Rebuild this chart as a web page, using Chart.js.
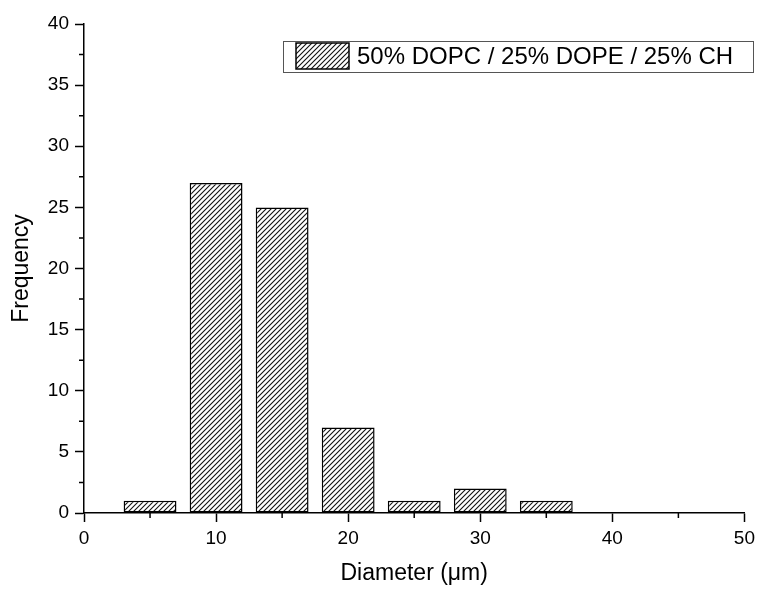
<!DOCTYPE html>
<html>
<head>
<meta charset="utf-8">
<script src="https://cdn.jsdelivr.net/npm/chart.js@4.4.1/dist/chart.umd.min.js"></script>
<style>
  html, body { margin: 0; padding: 0; background: #fff; }
  #wrap { width: 760px; height: 591px; }
</style>
</head>
<body>
<div id="wrap"><canvas id="grafico_histograma"></canvas></div>
<script>
// dados do histograma
const diametros = [5, 10, 15, 20, 25, 30, 35]
const frequencias = [1, 27, 25, 7, 1, 2, 1]
const serieLabel = '50% DOPC / 25% DOPE / 25% CH'
const xTitulo = 'Diameter (\u03bcm)'
const yTitulo = 'Frequency'

const fonte = '"Liberation Sans", Arial, sans-serif'

// padrão hachurado ///
const criarHachura = () => {
    const c = document.createElement('canvas')
    c.width = 5
    c.height = 5
    const g = c.getContext('2d')
    g.fillStyle = '#fff'
    g.fillRect(0, 0, 5, 5)
    g.strokeStyle = '#111'
    g.lineWidth = 1.1
    g.beginPath()
    g.moveTo(-1, 6); g.lineTo(6, -1)
    g.moveTo(-1, 1); g.lineTo(1, -1)
    g.moveTo(4, 6); g.lineTo(6, 4)
    g.stroke()
    return g.createPattern(c, 'repeat')
}
const hachura = criarHachura()

// ticks menores (minor) mais curtos
const ticksMenores = {
    id: 'ticksMenores',
    afterDraw(chart) {
        const ctx = chart.ctx
        const x = chart.scales.x
        const y = chart.scales.y
        ctx.save()
        ctx.strokeStyle = '#000'
        ctx.lineWidth = 1.5
        ctx.beginPath()
        for (let v = 5; v < 50; v += 10) {
            const px = x.getPixelForValue(v)
            ctx.moveTo(px, y.bottom)
            ctx.lineTo(px, y.bottom + 5)
        }
        for (let v = 2.5; v < 40; v += 5) {
            const py = y.getPixelForValue(v)
            ctx.moveTo(x.left, py)
            ctx.lineTo(x.left - 5, py)
        }
        ctx.stroke()
        ctx.restore()
    }
}

// legenda desenhada dentro da área do gráfico
const legendaCaixa = {
    id: 'legendaCaixa',
    afterDraw(chart) {
        const ctx = chart.ctx
        const label = chart.data.datasets[0].label
        ctx.save()
        ctx.strokeStyle = '#555'
        ctx.lineWidth = 1
        ctx.fillStyle = '#fff'
        ctx.fillRect(283.5, 41.5, 470, 31)
        ctx.strokeRect(283.5, 41.5, 470, 31)
        ctx.fillStyle = hachura
        ctx.fillRect(296, 43, 53, 26)
        ctx.strokeStyle = '#000'
        ctx.lineWidth = 1.5
        ctx.strokeRect(296, 43, 53, 26)
        ctx.fillStyle = '#000'
        ctx.font = '24px ' + fonte
        ctx.textBaseline = 'middle'
        ctx.fillText(label, 357, 57)
        ctx.restore()
    }
}

const ctx = document.querySelector('#grafico_histograma')

const chart = new Chart(ctx, {
    type: 'bar',
    data: {
        datasets: [{
            label: serieLabel,
            data: diametros.map((d, i) => ({ x: d, y: frequencias[i] })),
            backgroundColor: hachura,
            borderColor: '#000',
            borderWidth: 1.5,
            borderSkipped: false,
            barPercentage: 0.8,
            categoryPercentage: 1
        }]
    },
    options: {
        responsive: true,
        maintainAspectRatio: false,
        animation: false,
        layout: { padding: { top: 24, right: 14, left: 0, bottom: 0 } },
        plugins: {
            legend: { display: false },
            tooltip: { enabled: false }
        },
        scales: {
            x: {
                type: 'linear',
                min: 0,
                max: 50,
                offset: false,
                afterFit: (s) => { s.height = 78 },
                ticks: {
                    stepSize: 10,
                    color: '#000',
                    font: { family: fonte, size: 19 },
                    padding: 5
                },
                grid: {
                    offset: false,
                    drawOnChartArea: false,
                    drawTicks: true,
                    tickLength: 9,
                    tickWidth: 1.5,
                    tickColor: '#000'
                },
                border: { display: true, color: '#000', width: 1.5 },
                title: {
                    display: true,
                    text: xTitulo,
                    color: '#000',
                    font: { family: fonte, size: 23 },
                    padding: { top: 11 }
                }
            },
            y: {
                min: 0,
                max: 40,
                afterFit: (s) => { s.width = 84 },
                ticks: {
                    stepSize: 5,
                    color: '#000',
                    font: { family: fonte, size: 19 },
                    padding: 6
                },
                grid: {
                    offset: false,
                    drawOnChartArea: false,
                    drawTicks: true,
                    tickLength: 9,
                    tickWidth: 1.5,
                    tickColor: '#000'
                },
                border: { display: true, color: '#000', width: 1.5 },
                title: {
                    display: true,
                    text: yTitulo,
                    color: '#000',
                    font: { family: fonte, size: 23 },
                    padding: { top: 8, bottom: 4 }
                }
            }
        }
    },
    plugins: [ticksMenores, legendaCaixa]
})
</script>
</body>
</html>
